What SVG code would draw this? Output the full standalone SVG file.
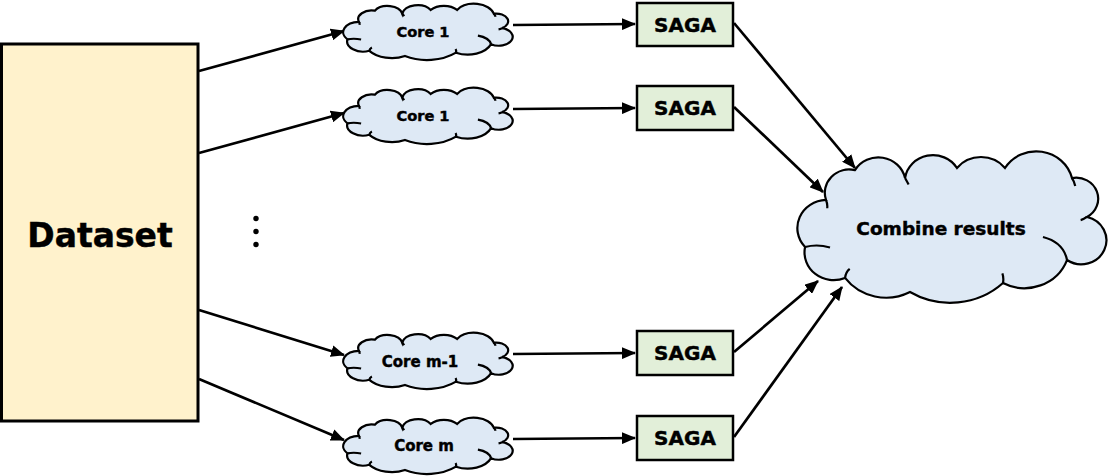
<svg xmlns="http://www.w3.org/2000/svg" xmlns:xlink="http://www.w3.org/1999/xlink" width="1109" height="476" viewBox="0 0 1109 476">
<style>
.txt{font-family:"DejaVu Sans","Liberation Sans",sans-serif;font-weight:bold;fill:#000;stroke:#000;stroke-width:0.45;text-anchor:middle}
.box{fill:#e2efd9;stroke:#000;stroke-width:2.5}
.cl{fill:#dee9f5;stroke:#000;stroke-width:2.2}
.ci{fill:none;stroke:#000;stroke-width:2.2}
.conn{stroke:#000;stroke-width:2.7;fill:none;marker-end:url(#ah)}
</style>
<defs>
<marker id="ah" markerUnits="userSpaceOnUse" markerWidth="14" markerHeight="12" refX="13" refY="6" orient="auto">
<path d="M0,0 L14,6 L0,12 z" fill="#000"/>
</marker>
<g id="cloud">
<path class="cl" vector-effect="non-scaling-stroke" d="M18.7 32.4 A15.8 15.8 0 0 1 37.4 12.2 A17.6 17.6 0 0 1 69.7 17.6 A18.2 18.2 0 0 1 103.2 10.8 A19.9 19.9 0 0 1 134.2 10.8 A23.7 23.7 0 0 1 177.4 17.6 A14.2 14.2 0 0 1 187.1 43.9 A16.2 16.2 0 1 1 174.2 73 A29.3 29.3 0 0 1 132.9 88.5 A50 50 0 0 1 72.9 94.6 A33 33 0 0 1 31 85.1 A18.8 18.8 0 0 1 5.2 64.2 A19 19 0 0 1 18.7 32.4 Z"/>
<path class="ci" vector-effect="non-scaling-stroke" d="M5.2 64.2 Q13 62 21.3 64.5 M31 85.1 Q31.5 81 34 79 M132.9 88.5 Q133.5 85 132.5 82 M174.2 73 Q172 61 158.7 57.4 M187.1 43.9 Q185 45.5 183 46 M177.4 17.6 Q179 20 179.5 23 M69.7 17.6 Q71 20 72 22 M18.7 32.4 Q19.8 35 19.5 38"/>
</g>
</defs>

<g id="connectors">
<line class="conn" x1="199" y1="71" x2="344" y2="31"/>
<line class="conn" x1="199" y1="153" x2="344" y2="113"/>
<line class="conn" x1="199" y1="310" x2="344" y2="355"/>
<line class="conn" x1="199" y1="379" x2="344" y2="440"/>
<line class="conn" x1="513" y1="25" x2="635" y2="24"/>
<line class="conn" x1="513" y1="109" x2="635" y2="108"/>
<line class="conn" x1="513" y1="354" x2="635" y2="353"/>
<line class="conn" x1="513" y1="439" x2="635" y2="438"/>
<line class="conn" x1="734" y1="23" x2="855" y2="168"/>
<line class="conn" x1="734" y1="107" x2="823" y2="192"/>
<line class="conn" x1="734" y1="352" x2="818" y2="281"/>
<line class="conn" x1="734" y1="437" x2="842" y2="287"/>
</g>

<g id="dataset">
<rect x="1.5" y="44" width="196.5" height="377" fill="#fff2cc" stroke="#000" stroke-width="3"/>
<text class="txt" x="100" y="247" font-size="33">Dataset</text>
</g>

<g id="dots">
<circle cx="256" cy="218.5" r="2.7" fill="#000"/>
<circle cx="256" cy="231.5" r="2.7" fill="#000"/>
<circle cx="256" cy="244.5" r="2.7" fill="#000"/>
</g>

<g id="core1a">
<use xlink:href="#cloud" transform="translate(343,4) scale(0.85,0.55)"/>
<text class="txt" x="423" y="37" font-size="14.6">Core 1</text>
</g>
<g id="core1b">
<use xlink:href="#cloud" transform="translate(343,88) scale(0.85,0.55)"/>
<text class="txt" x="423" y="121" font-size="14.6">Core 1</text>
</g>
<g id="corem1">
<use xlink:href="#cloud" transform="translate(343,333) scale(0.85,0.55)"/>
<text class="txt" x="420" y="367" font-size="15">Core m-1</text>
</g>
<g id="corem">
<use xlink:href="#cloud" transform="translate(343,418) scale(0.85,0.55)"/>
<text class="txt" x="424" y="451" font-size="15">Core m</text>
</g>

<g id="saga1">
<rect class="box" x="637" y="3" width="96" height="43"/>
<text class="txt" x="685" y="32" font-size="20">SAGA</text>
</g>
<g id="saga2">
<rect class="box" x="637" y="86" width="96" height="44"/>
<text class="txt" x="685" y="115" font-size="20">SAGA</text>
</g>
<g id="saga3">
<rect class="box" x="637" y="331" width="96" height="44"/>
<text class="txt" x="685" y="360" font-size="20">SAGA</text>
</g>
<g id="saga4">
<rect class="box" x="637" y="416" width="96" height="44"/>
<text class="txt" x="685" y="445" font-size="20">SAGA</text>
</g>

<g id="combine">
<use xlink:href="#cloud" transform="translate(797,152) scale(1.55,1.48)"/>
<text class="txt" x="941" y="235" font-size="18.5">Combine results</text>
</g>
</svg>
